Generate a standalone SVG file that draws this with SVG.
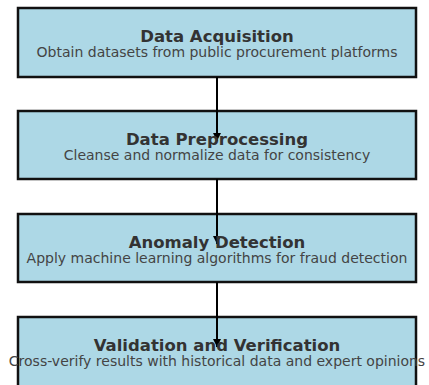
<svg xmlns="http://www.w3.org/2000/svg" width="429" height="385" viewBox="0 0 429 385">
<defs>
<style>
.box{fill:#add8e6;stroke:#111;stroke-width:2.5}
.t{font-family:"DejaVu Sans",sans-serif;font-weight:bold;font-size:16.5px;fill:#333;text-anchor:middle}
.s{font-family:"DejaVu Sans",sans-serif;font-size:14px;fill:#444;text-anchor:middle}
.c{stroke:#000;stroke-width:2;fill:none}
</style>
<marker id="ah" markerWidth="8" markerHeight="8" refX="6" refY="3" orient="auto" markerUnits="userSpaceOnUse" viewBox="0 0 6 6">
<path d="M0,0 L6,3 L0,6 z" fill="#000"/>
</marker>
</defs>
<rect width="429" height="385" fill="#fff"/>
<g id="n1"><rect class="box" x="18" y="8" width="398" height="69"/></g>
<g id="n2"><rect class="box" x="18" y="111" width="398" height="68"/></g>
<g id="n3"><rect class="box" x="18" y="214" width="398" height="68"/></g>
<g id="n4"><rect class="box" x="18" y="317" width="398" height="80"/></g>
<g id="connectors">
<line class="c" x1="217" y1="77" x2="217" y2="141" marker-end="url(#ah)"/>
<line class="c" x1="217" y1="179" x2="217" y2="244" marker-end="url(#ah)"/>
<line class="c" x1="217" y1="282" x2="217" y2="347" marker-end="url(#ah)"/>
</g>
<g id="labels">
<text class="t" x="217" y="42">Data Acquisition</text>
<text class="s" x="217" y="56.5">Obtain datasets from public procurement platforms</text>
<text class="t" x="217" y="145">Data Preprocessing</text>
<text class="s" x="217" y="159.5">Cleanse and normalize data for consistency</text>
<text class="t" x="217" y="248">Anomaly Detection</text>
<text class="s" x="217" y="262.5">Apply machine learning algorithms for fraud detection</text>
<text class="t" x="217" y="351">Validation and Verification</text>
<text class="s" x="217" y="365.5">Cross-verify results with historical data and expert opinions</text>
</g>
</svg>
